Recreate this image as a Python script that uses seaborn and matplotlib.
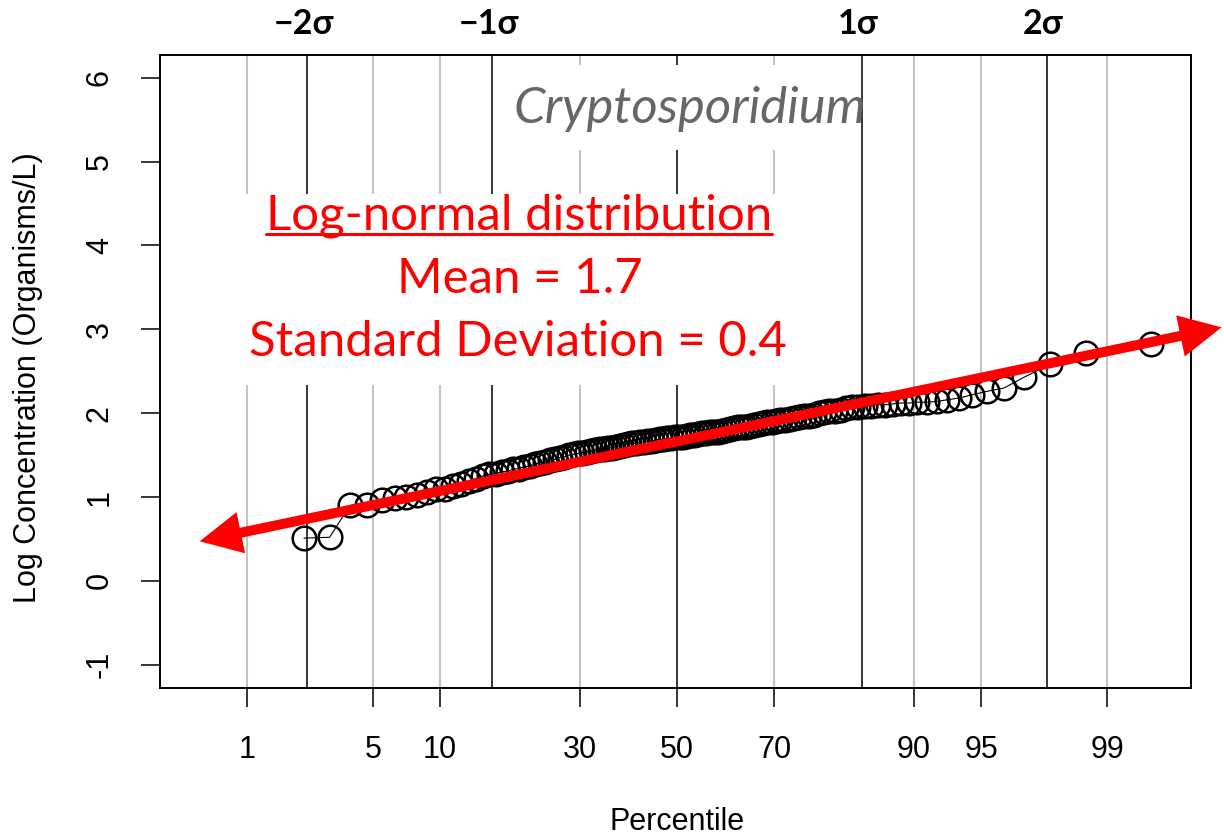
import numpy as np
import pandas as pd
import matplotlib
matplotlib.use("Agg")
import matplotlib.pyplot as plt
import seaborn as sns
from matplotlib.patches import FancyArrowPatch, Rectangle
from matplotlib.lines import Line2D
import matplotlib.transforms as mtransforms
from statistics import NormalDist

# ---------------- data ----------------
n_samples = 120          # total samples
n_zero = 2               # zero counts (log undefined) -> not plotted
log_conc = [
    0.51, 0.52, 0.90, 0.91,
    0.96, 0.99, 1.00, 1.03,
    1.06, 1.09, 1.10, 1.13, 1.16, 1.19, 1.22, 1.25, 1.27, 1.28,
    1.30, 1.31, 1.33, 1.34, 1.36, 1.37, 1.39, 1.41, 1.42, 1.44,
    1.45, 1.47, 1.48, 1.50, 1.51, 1.52, 1.53, 1.54, 1.55, 1.56,
    1.57, 1.57, 1.58, 1.59, 1.60, 1.61, 1.62, 1.63, 1.64, 1.64,
    1.65, 1.66, 1.67, 1.67, 1.68, 1.69, 1.69, 1.70, 1.70, 1.71,
    1.72, 1.72, 1.73, 1.74, 1.74, 1.75, 1.76, 1.76, 1.77, 1.77,
    1.78, 1.79, 1.80, 1.81, 1.82, 1.83, 1.84, 1.84, 1.85, 1.86,
    1.87, 1.88, 1.89, 1.90, 1.91, 1.92, 1.92, 1.93, 1.94, 1.95,
    1.96, 1.97, 1.98, 2.00, 2.01, 2.02, 2.03, 2.04, 2.06, 2.07,
    2.07, 2.08, 2.09, 2.10, 2.10, 2.11, 2.12, 2.12, 2.13, 2.13,
    2.14, 2.16, 2.18, 2.22, 2.26, 2.30, 2.43, 2.58, 2.72, 2.82,
]
percentile_ticks = [1, 5, 10, 30, 50, 70, 90, 95, 99]
sigma_levels = [-2, -1, 0, 1, 2]
sigma_labels = ["\u22122\u03c3", "\u22121\u03c3", "", "1\u03c3", "2\u03c3"]
y_ticks = [-1, 0, 1, 2, 3, 4, 5, 6]
organism = "Cryptosporidium"
dist_title = "Log-normal distribution"
mean_text = "Mean = 1.7"
sd_text = "Standard Deviation = 0.4"
fit_arrow_start = (-2.596, 0.465)   # (z, log conc) of hand-drawn arrow ends
fit_arrow_end = (2.960, 3.030)

nd = NormalDist()
ranks = np.arange(n_zero + 1, n_samples + 1)
pp = (ranks - 0.375) / (n_samples + 0.25)
df = pd.DataFrame({"z": [nd.inv_cdf(p) for p in pp], "logc": log_conc})

# ---------------- style ----------------
sns.set_style("white")
plt.rcParams["font.family"] = ["Liberation Sans", "DejaVu Sans"]
plt.rcParams["text.color"] = "black"
callout_font = ["Lato", "DejaVu Sans"]

W, H = 1224, 836
fig = plt.figure(figsize=(W / 100, H / 100), dpi=100)
ax = fig.add_axes([160 / W, 1 - 688 / H, 1031 / W, 633 / H])
ax.set_xlim(-2.796, 2.780)
ax.set_ylim(-1.277, 6.27)

# vertical reference lines
for pc in percentile_ticks:
    if pc == 50:
        continue
    ax.axvline(nd.inv_cdf(pc / 100), color="#c3c3c3", lw=1.5, zorder=1)
for s in sigma_levels:
    ax.axvline(s, color="black", lw=1.1, zorder=1.1)

# white backgrounds behind annotations
ax.add_patch(Rectangle((-0.984, 5.14), 1.963, 1.01, facecolor="white",
                       edgecolor="none", zorder=1.5))
ax.add_patch(Rectangle((-2.45, 2.34), 3.20, 2.27, facecolor="white",
                       edgecolor="none", zorder=1.5))

# data
sns.lineplot(data=df, x="z", y="logc", ax=ax, estimator=None, sort=False,
             color="black", lw=0.8, marker="o", markersize=17,
             markerfacecolor="none", markeredgecolor="black",
             markeredgewidth=1.8, zorder=3)

# red double arrow (heads filled, shaft separate)
heads = FancyArrowPatch(fit_arrow_start, fit_arrow_end,
                        arrowstyle="<|-|>,head_length=0.42,head_width=0.21",
                        mutation_scale=72, lw=0, color="red",
                        clip_on=False, zorder=5)
shaft = FancyArrowPatch(fit_arrow_start, fit_arrow_end, arrowstyle="-",
                        lw=7.2, color="red", shrinkA=22, shrinkB=22,
                        capstyle="butt", clip_on=False, zorder=5)
ax.add_patch(heads)
ax.add_patch(shaft)

# axes, ticks
for sp in ax.spines.values():
    sp.set_color("black")
    sp.set_linewidth(1.4)
ax.set_xticks([nd.inv_cdf(p / 100) for p in percentile_ticks])
ax.set_xticklabels([str(p) for p in percentile_ticks])
ax.set_yticks(y_ticks)
ax.set_yticklabels([str(v) for v in y_ticks])
ax.tick_params(axis="x", bottom=True, length=14, width=1.1, pad=20,
               labelsize=22, color="black", labelcolor="black")
ax.tick_params(axis="y", left=True, length=13.5, width=1.1, pad=19,
               labelsize=22, color="black", labelcolor="black",
               labelrotation=90)
for lab in ax.get_yticklabels():
    lab.set_va("center")
ax.set_xlabel("")
ax.set_ylabel("")
fig.text(677 / W, 1 - 822 / H, "Percentile", ha="center", va="center",
         fontsize=22)
fig.text(28 / W, 1 - 378 / H, "Log Concentration (Organisms/L)",
         ha="center", va="center", rotation=90, fontsize=22)

# sigma labels above the plot
trans = mtransforms.blended_transform_factory(ax.transData, ax.transAxes)
for s, lab in zip(sigma_levels, sigma_labels):
    if lab:
        ax.text(s - 0.02, 1 + 31 / 633, lab, transform=trans, ha="center",
                va="center", fontsize=24.5, fontweight="bold",
                family=callout_font, clip_on=False)

# organism label
ax.text((690 - 677) / 184.9, (581 - 110) / 83.8, organism, ha="center",
        va="center", fontsize=36.5, style="italic", color="#666666",
        family=callout_font, zorder=2)

# red callout
t1 = ax.text((519 - 677) / 184.9, (581 - 216) / 83.8, dist_title,
             ha="center", va="center", fontsize=35.4, color="red",
             family=callout_font, zorder=2)
ax.text((520 - 677) / 184.9, (581 - 279) / 83.8, mean_text, ha="center",
        va="center", fontsize=35.4, color="red", family=callout_font, zorder=2)
ax.text((518 - 677) / 184.9, (581 - 342) / 83.8, sd_text, ha="center",
        va="center", fontsize=35.4, color="red", family=callout_font, zorder=2)

fig.canvas.draw()
bb = t1.get_window_extent()
uy = bb.y0 + 4
fig.add_artist(Line2D([bb.x0 / W, bb.x1 / W], [uy / H, uy / H],
                      transform=fig.transFigure, color="red", lw=2.2))

fig.savefig("out.png", dpi=100)
